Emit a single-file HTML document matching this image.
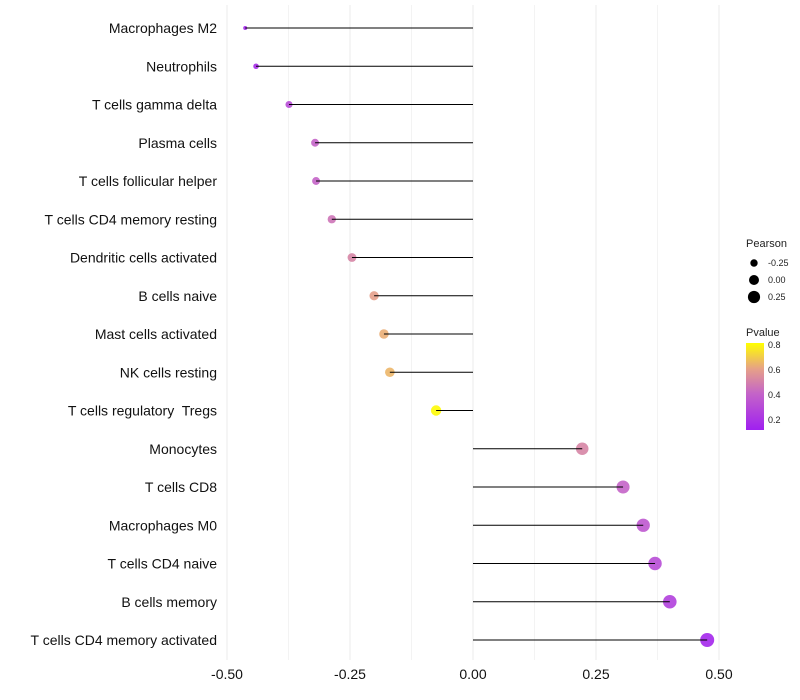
<!DOCTYPE html>
<html><head><meta charset="utf-8"><style>
body{margin:0;background:#fff;font-family:"Liberation Sans",sans-serif}
svg{display:block}
text{white-space:pre}
</style></head><body>
<svg id="chart" width="800" height="700" xmlns="http://www.w3.org/2000/svg">
<defs>
<linearGradient id="pgrad" x1="0" y1="1" x2="0" y2="0">
<stop offset="0" stop-color="#a020f0"/>
<stop offset="0.42" stop-color="#c464c8"/>
<stop offset="0.7" stop-color="#e6a088"/>
<stop offset="1" stop-color="#ffff00"/>
</linearGradient>
</defs>
<g id="grid"></g><g id="marks"></g><g id="labels"></g>
<g font-size="10" fill="#222">
<text x="746" y="247" font-size="11">Pearson</text>
<circle cx="754" cy="263" r="3.7" fill="#000"/><text x="768" y="266" font-size="9">-0.25</text>
<circle cx="754" cy="280" r="5" fill="#000"/><text x="768" y="283" font-size="9">0.00</text>
<circle cx="754" cy="297" r="6.1" fill="#000"/><text x="768" y="300" font-size="9">0.25</text>
</g>
<g fill="#222">
<text x="746" y="336" font-size="11">Pvalue</text>
<rect x="746" y="343" width="18" height="87" fill="url(#pgrad)"/>
<text x="768" y="348" font-size="9">0.8</text>
<text x="768" y="373" font-size="9">0.6</text>
<text x="768" y="398" font-size="9">0.4</text>
<text x="768" y="423" font-size="9">0.2</text>
</g>
</svg>
<script>
const categories=["Macrophages M2","Neutrophils","T cells gamma delta","Plasma cells","T cells follicular helper","T cells CD4 memory resting","Dendritic cells activated","B cells naive","Mast cells activated","NK cells resting","T cells regulatory  Tregs","Monocytes","T cells CD8","Macrophages M0","T cells CD4 naive","B cells memory","T cells CD4 memory activated"];
const pearson=[-0.463,-0.441,-0.374,-0.321,-0.319,-0.287,-0.246,-0.201,-0.181,-0.169,-0.075,0.222,0.305,0.346,0.370,0.400,0.476];
const pvalue=[0.15,0.17,0.3,0.4,0.4,0.45,0.5,0.58,0.62,0.64,0.8,0.5,0.4,0.35,0.3,0.25,0.15];
const xTicks=[-0.5,-0.25,0,0.25,0.5];
const xTickLabels=["-0.50","-0.25","0.00","0.25","0.50"];
const NS="http://www.w3.org/2000/svg";
const xS=v=>473+v*492;
const yS=i=>28+i*38.25;
const rS=v=>2+5*Math.sqrt(Math.max(0,(v+0.463)/0.939));
const stops=[[0.12,[160,32,240]],[0.4,[196,100,200]],[0.6,[232,165,130]],[0.81,[255,255,0]]];
function col(p){p=Math.max(0.12,Math.min(0.81,p));for(let k=0;k<stops.length-1;k++){const a=stops[k],b=stops[k+1];if(p<=b[0]){const t=(p-a[0])/(b[0]-a[0]);return "rgb("+a[1].map((c,j)=>Math.round(c+(b[1][j]-c)*t)).join(",")+")";}}return "rgb(255,255,0)";}
function mk(t,a,p){const e=document.createElementNS(NS,t);for(const k in a)e.setAttribute(k,a[k]);p.appendChild(e);return e;}
const grid=document.getElementById('grid'),marks=document.getElementById('marks'),labels=document.getElementById('labels');
for(let v=-0.5;v<=0.501;v+=0.125){const l=mk('line',{x1:xS(v),x2:xS(v),y1:5,y2:660,stroke:'#ebebeb','stroke-width':Math.abs((v*4)%1)<1e-6?1:0.6},grid);

}
xTicks.forEach((v,i)=>{const t=mk('text',{x:xS(v),y:679,'text-anchor':'middle','font-size':14,fill:'#111'},labels);t.textContent=xTickLabels[i];

});
categories.forEach((c,i)=>{
const t=mk('text',{x:217,y:yS(i)+5,'text-anchor':'end','font-size':14,fill:'#111'},labels);t.textContent=c;


const d=mk('circle',{cx:xS(pearson[i]),cy:yS(i),r:rS(pearson[i]),fill:col(pvalue[i]),'fill-opacity':0.9},marks);


const s=mk('line',{x1:xS(0),x2:xS(pearson[i]),y1:yS(i),y2:yS(i),stroke:'#000','stroke-width':1},marks);


});
</script>
</body></html>
